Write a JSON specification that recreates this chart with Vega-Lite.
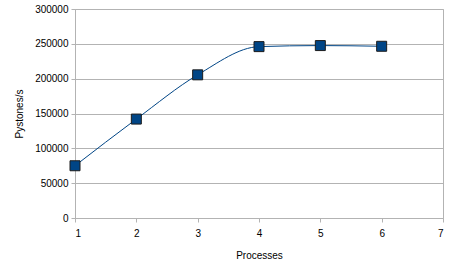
{
  "$schema": "https://vega.github.io/schema/vega-lite/v6.json",
  "autosize": {"type": "none"},
  "width": 368,
  "height": 209,
  "padding": {"left": 75, "top": 9, "right": 7, "bottom": 52},
  "background": "white",
  "config": {
    "view": {"stroke": "#b3b3b3", "strokeWidth": 1},
    "font": "Liberation Sans",
    "axis": {
      "labelFont": "Liberation Sans",
      "titleFont": "Liberation Sans",
      "labelFontSize": 10,
      "titleFontSize": 10,
      "titleFontWeight": "normal",
      "labelColor": "#000000",
      "titleColor": "#000000",
      "domainColor": "#b3b3b3",
      "tickColor": "#b3b3b3",
      "gridColor": "#b3b3b3",
      "gridOpacity": 1
    }
  },
  "data": {
    "values": [
      {"processes": 1, "pystones": 75000},
      {"processes": 2, "pystones": 142000},
      {"processes": 3, "pystones": 205500},
      {"processes": 4, "pystones": 246000},
      {"processes": 5, "pystones": 247500},
      {"processes": 6, "pystones": 246500}
    ]
  },
  "encoding": {
    "x": {
      "field": "processes",
      "type": "quantitative",
      "scale": {"domain": [1, 7], "nice": false, "zero": false},
      "axis": {"title": "Processes", "values": [1, 2, 3, 4, 5, 6, 7], "grid": false, "tickSize": 4, "labelPadding": 6, "titlePadding": 12}
    },
    "y": {
      "field": "pystones",
      "type": "quantitative",
      "scale": {"domain": [0, 300000], "nice": false},
      "axis": {"title": "Pystones/s", "values": [0, 50000, 100000, 150000, 200000, 250000, 300000], "format": "d", "tickSize": 4, "labelPadding": 3, "titlePadding": 10}
    }
  },
  "layer": [
    {"mark": {"type": "line", "interpolate": "monotone", "color": "#004586", "strokeWidth": 1}},
    {"mark": {"type": "point", "shape": "square", "filled": true, "size": 100, "fill": "#004586", "stroke": "#1c1c1c", "strokeWidth": 1, "opacity": 1}}
  ]
}
